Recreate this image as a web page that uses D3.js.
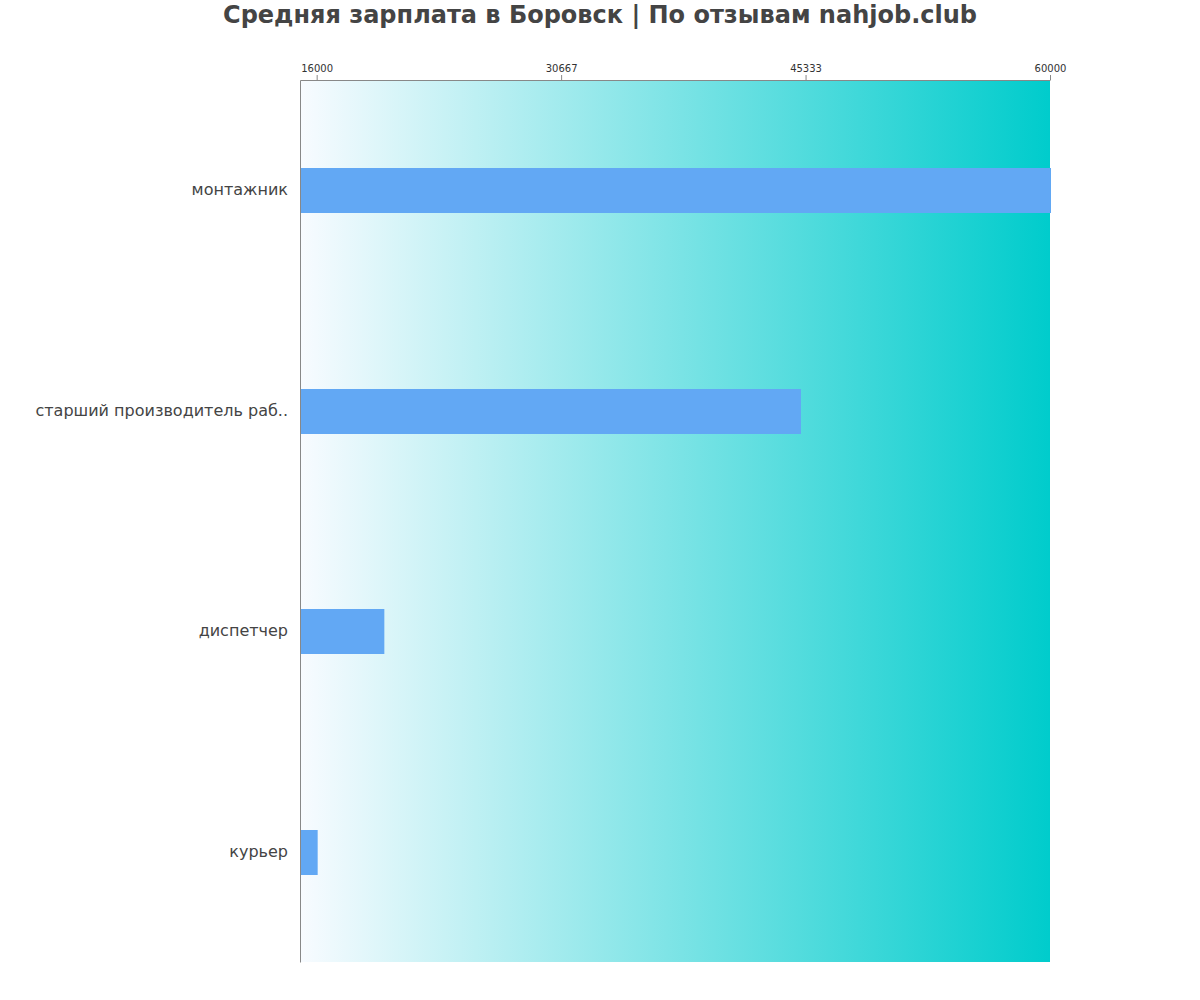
<!DOCTYPE html>
<html><head><meta charset="utf-8">
<script src="https://cdn.jsdelivr.net/npm/d3@7"></script>
<style>body{margin:0;background:#fff;} text{font-family:"DejaVu Sans",sans-serif;}</style>
</head><body>
<svg id="chart" width="1200" height="1000"></svg>
<script>
const categories = ["монтажник", "старший производитель раб..", "диспетчер", "курьер"];
const values = [60000, 45000, 20000, 16000];
const tickValues = [16000, 30667, 45333, 60000];
const titleText = "Средняя зарплата в Боровск | По отзывам nahjob.club";

const svg = d3.select("#chart");
const m = {left: 300, right: 1050, top: 80, bottom: 962};

const x = d3.scaleLinear().domain([15000, 60000]).range([m.left, m.right]);
const y = d3.scaleBand().domain(categories).range([m.top, m.bottom]);
const barH = 45;

const defs = svg.append("defs");
const grad = defs.append("linearGradient").attr("id", "bg").attr("x1", "0%").attr("x2", "100%").attr("y1", "0%").attr("y2", "0%");
grad.append("stop").attr("offset", "0%").attr("stop-color", "#f8fbff");
grad.append("stop").attr("offset", "100%").attr("stop-color", "#00cccc");

svg.append("rect").attr("x", m.left).attr("y", m.top).attr("width", m.right - m.left).attr("height", m.bottom - m.top).attr("fill", "url(#bg)");

svg.append("g").selectAll("rect").data(categories).join("rect")
  .attr("x", x(15000))
  .attr("y", d => Math.round(y(d) + y.bandwidth() / 2 - barH / 2 + 0.5))
  .attr("width", (d, i) => x(values[i]) - x(15000) + 1)
  .attr("height", barH)
  .attr("fill", "#62a8f4");

const xAxis = svg.append("g").attr("transform", `translate(0,${m.top})`)
  .call(d3.axisTop(x).tickValues(tickValues).tickFormat(d3.format("d")).tickSize(5).tickSizeOuter(0));
xAxis.select(".domain").attr("stroke", "#888");
xAxis.selectAll(".tick line").attr("stroke", "#888");
xAxis.selectAll(".tick text").attr("fill", "#333").style("font-size", "10px").style("font-family", "DejaVu Sans");

const yAxis = svg.append("g").attr("transform", `translate(${m.left},0)`)
  .call(d3.axisLeft(y).tickSize(0).tickPadding(12).tickSizeOuter(0));
yAxis.select(".domain").attr("stroke", "#888");
yAxis.selectAll(".tick text").attr("fill", "#444").style("font-size", "16px").style("font-family", "DejaVu Sans")
  .attr("dy", "0.3em");

svg.append("text").attr("x", 600).attr("y", 23).attr("text-anchor", "middle")
  .style("font-size", "24px").style("font-weight", "bold").attr("fill", "#444").text(titleText);
</script>
</body></html>
